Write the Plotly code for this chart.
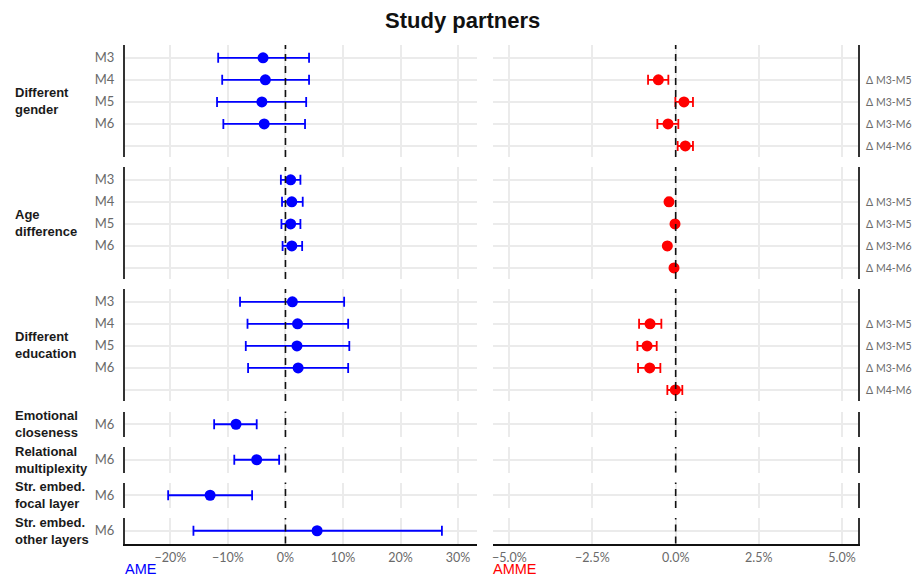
import plotly.graph_objects as go

# The page body adds an 8px margin, so the figure is drawn at (8, 8);
# keep the figure fully inside the 924x586 window.
OX, OY = 8, 8
PAGE_W, PAGE_H = 924, 586
W, H = PAGE_W - 2 * OX, PAGE_H - 2 * OY

# ---------------- data ----------------
group_labels = ["Different<br>gender", "Age<br>difference", "Different<br>education",
                "Emotional<br>closeness", "Relational<br>multiplexity",
                "Str. embed.<br>focal layer", "Str. embed.<br>other layers"]

models_full = ["M3", "M4", "M5", "M6"]
models_m6 = ["M6"]
contrasts = ["Δ M3-M5", "Δ M3-M5", "Δ M3-M6", "Δ M4-M6"]

# AME (%), point estimate and 95% CI
gender_ame = [-3.9, -3.5, -4.1, -3.7]
gender_lo = [-11.7, -11.0, -11.9, -10.8]
gender_hi = [4.1, 4.1, 3.6, 3.4]

age_ame = [0.9, 1.1, 0.9, 1.1]
age_lo = [-0.8, -0.6, -0.7, -0.5]
age_hi = [2.6, 3.0, 2.6, 2.9]

edu_ame = [1.2, 2.1, 2.0, 2.2]
edu_lo = [-7.9, -6.6, -6.9, -6.5]
edu_hi = [10.2, 10.9, 11.1, 10.9]

emo_ame, emo_lo, emo_hi = [-8.6], [-12.4], [-5.0]
rel_ame, rel_lo, rel_hi = [-5.0], [-8.9], [-1.1]
foc_ame, foc_lo, foc_hi = [-13.1], [-20.4], [-5.8]
oth_ame, oth_lo, oth_hi = [5.5], [-16.0], [27.2]

# AMME (%), contrasts between models
gender_amme = [-0.52, 0.25, -0.23, 0.29]
gender_amme_lo = [-0.83, -0.01, -0.55, 0.06]
gender_amme_hi = [-0.22, 0.52, 0.08, 0.52]

age_amme = [-0.20, -0.02, -0.25, -0.05]
age_amme_lo = [-0.25, -0.06, -0.30, -0.09]
age_amme_hi = [-0.15, 0.02, -0.20, -0.01]

edu_amme = [-0.77, -0.86, -0.78, -0.01]
edu_amme_lo = [-1.10, -1.15, -1.13, -0.25]
edu_amme_hi = [-0.43, -0.57, -0.46, 0.20]

ame_ticks = [-20, -10, 0, 10, 20, 30]
ame_ticktext = ["−20%", "−10%", "0%", "10%", "20%", "30%"]
amme_ticks = [-5, -2.5, 0, 2.5, 5]
amme_ticktext = ["−5.0%", "−2.5%", "0.0%", "2.5%", "5.0%"]

left_data = [
    (models_full, gender_ame, gender_lo, gender_hi),
    (models_full, age_ame, age_lo, age_hi),
    (models_full, edu_ame, edu_lo, edu_hi),
    (models_m6, emo_ame, emo_lo, emo_hi),
    (models_m6, rel_ame, rel_lo, rel_hi),
    (models_m6, foc_ame, foc_lo, foc_hi),
    (models_m6, oth_ame, oth_lo, oth_hi),
]
right_data = [
    (contrasts, gender_amme, gender_amme_lo, gender_amme_hi),
    (contrasts, age_amme, age_amme_lo, age_amme_hi),
    (contrasts, edu_amme, edu_amme_lo, edu_amme_hi),
    None, None, None, None,
]

# ---------------- layout geometry (page pixels) ----------------
panels_px = [(45, 157), (167, 279), (289, 401), (411.5, 437), (447, 472.5),
             (482.5, 508), (518, 543.5)]
left_x_px = (125, 477)
right_x_px = (493, 858)

BLUE = "#0000FF"
RED = "#FF0000"
GRID = "#EBEBEB"
AXLINE = "#333333"
TICKCOL = "#6a6a6a"
TICKFONT = dict(family="Lato, Noto Sans, sans-serif", size=13, color=TICKCOL)
BOLDFONT = "Liberation Sans, Arial, sans-serif"


def px_x(x):
    return (x - OX) / W


def px_y(y):
    return 1 - (y - OY) / H


fig = go.Figure()
layout = {}
shapes = []
annotations = []

n_rows = len(panels_px)
for i in range(n_rows):
    top, bot = panels_px[i]
    big = i < 3
    yrange = [5.5, 0.42] if big else [1.57, 0.43]
    last = i == n_rows - 1
    for c in range(2):
        idx = i * 2 + c + 1
        xa = "xaxis" if idx == 1 else f"xaxis{idx}"
        ya = "yaxis" if idx == 1 else f"yaxis{idx}"
        xref = "x" if idx == 1 else f"x{idx}"
        yref = "y" if idx == 1 else f"y{idx}"
        xpx = left_x_px if c == 0 else right_x_px
        if c == 0:
            xr = [-27.9, 33.3]
            tv, tt = ame_ticks, ame_ticktext
        else:
            xr = [-5.49, 5.48]
            tv, tt = amme_ticks, amme_ticktext
        layout[xa] = dict(
            domain=[px_x(xpx[0]), px_x(xpx[1])], range=xr, anchor=yref,
            tickvals=tv, ticktext=tt, showgrid=True, gridcolor=GRID, gridwidth=1.5,
            zeroline=False, showticklabels=last, tickfont=dict(TICKFONT, size=12.5),
            showline=last, linecolor="#111111", linewidth=2, ticks="",
            ticklabelstandoff=1, automargin=False, fixedrange=True,
        )
        if big:
            yvals = [1, 2, 3, 4, 5]
            ytext = (models_full + [""]) if c == 0 else ([""] + contrasts)
        else:
            yvals = [1]
            ytext = models_m6 if c == 0 else [""]
        layout[ya] = dict(
            domain=[px_y(bot), px_y(top)], range=yrange, anchor=xref,
            tickvals=yvals, ticktext=ytext, showgrid=True, gridcolor=GRID, gridwidth=1.5,
            zeroline=False, tickfont=TICKFONT if c == 0 else dict(TICKFONT, size=10.5),
            showline=True, linecolor=AXLINE, linewidth=2, ticks="",
            side="left" if c == 0 else "right",
            ticklabelstandoff=6 if c == 0 else 4, ticklabeloverflow="allow",
            automargin=False, fixedrange=True,
        )
        # zero reference line
        shapes.append(dict(type="line", xref=xref, yref=f"{yref} domain",
                           x0=0, x1=0, y0=0, y1=1,
                           line=dict(color="#111111", width=1.6, dash="7px,5px")))

        data = left_data[i] if c == 0 else right_data[i]
        if data is None:
            continue
        labels, est, lo, hi = data
        offset = 1 if c == 1 else 0
        ypos = [k + 1 + offset for k in range(len(labels))]
        color = BLUE if c == 0 else RED
        fig.add_trace(go.Scatter(
            x=est, y=ypos, mode="markers", xaxis=xref, yaxis=yref,
            marker=dict(color=color, size=11, line=dict(width=0)),
            error_x=dict(type="data", symmetric=False,
                         array=[h - e for h, e in zip(hi, est)],
                         arrayminus=[e - l for e, l in zip(est, lo)],
                         color=color, thickness=1.8, width=5),
            showlegend=False, hoverinfo="skip",
        ))

    annotations.append(dict(
        text=f"<b>{group_labels[i]}</b>", x=px_x(13), y=px_y((top + bot) / 2),
        xref="paper", yref="paper", xanchor="left", yanchor="middle", align="left",
        showarrow=False, font=dict(family=BOLDFONT, size=13, color="#1a1a1a")))

annotations.append(dict(text="<b>Study partners</b>", x=px_x(462), y=px_y(21),
                        xref="paper", yref="paper", xanchor="center", yanchor="middle",
                        showarrow=False, font=dict(family=BOLDFONT, size=22, color="#111111")))
annotations.append(dict(text="AME", x=px_x(124), y=px_y(577.5), xref="paper", yref="paper",
                        xanchor="left", yanchor="bottom", showarrow=False, borderpad=0,
                        font=dict(family=BOLDFONT, size=14.5, color=BLUE)))
annotations.append(dict(text="AMME", x=px_x(492), y=px_y(577.5), xref="paper", yref="paper",
                        xanchor="left", yanchor="bottom", showarrow=False, borderpad=0,
                        font=dict(family=BOLDFONT, size=14.5, color=RED)))

fig.update_layout(
    width=W, height=H, margin=dict(l=0, r=0, t=0, b=0, autoexpand=False),
    paper_bgcolor="white", plot_bgcolor="white", template=None,
    shapes=shapes, annotations=annotations, showlegend=False,
    **layout,
)

fig.write_html("out.html")
